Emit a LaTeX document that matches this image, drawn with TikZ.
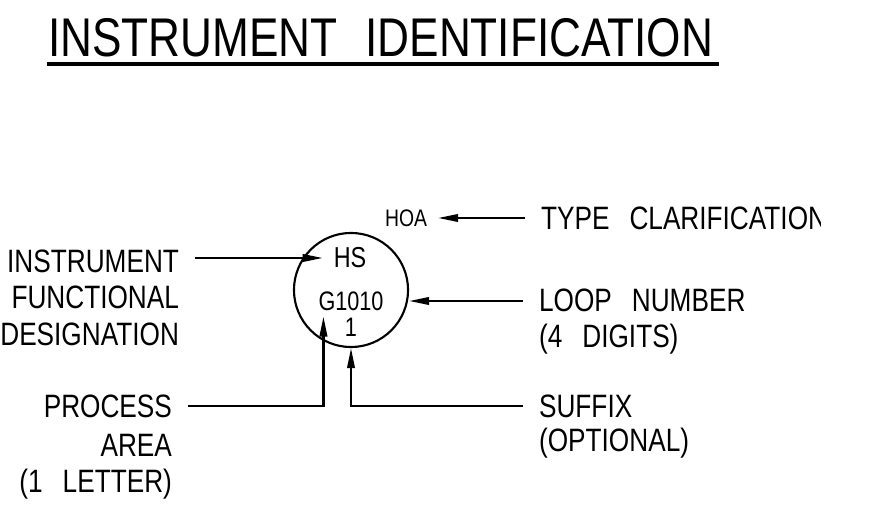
\documentclass[tikz,border=0pt]{standalone}
\usepackage{fontspec}
\setmainfont[FakeStretch=0.81]{Liberation Sans}
\usetikzlibrary{arrows.meta,calc}
\newcommand{\wgap}{\hspace{2mm}}

\begin{document}
\begin{tikzpicture}[x=0.01cm, y=-0.01cm, line width=0.6pt,
	arr/.style={-{Triangle[length=2mm, width=0.75mm]}},
	lbl/.style={font=\fontsize{9.2}{10.3}\selectfont, inner xsep=0.15cm, inner ysep=0pt},
	tag/.style={font=\fontsize{7.6}{8}\selectfont, inner sep=0.1cm}]
	\useasboundingbox (0,0) rectangle (892,519);
	% heading
	\node[anchor=base west, inner sep=0pt, font=\fontsize{15.5}{16}\selectfont] (title) at (47,57) {INSTRUMENT\hspace{2.8mm}IDENTIFICATION};
	\draw[line width=0.9pt] ($(title.base west)+(0,7)$) -- ($(title.base east)+(5,7)$);
	% instrument bubble
	\node[draw, circle, minimum size=1.14cm, inner sep=0pt] (bubble) at (351,290) {};
	\node[tag, font=\fontsize{8.2}{9}\selectfont] (hs) at (350,258) {HS};
	\node[tag] (g1010) at (351,301) {G1010};
	\node[tag] (one) at (351,327) {1};
	\node[tag, font=\fontsize{6.8}{7}\selectfont] (hoa) at (406,218) {HOA};
	% left labels
	\node[lbl, anchor=north east, align=right] (instr) at (195,249) {INSTRUMENT\\FUNCTIONAL\\DESIGNATION};
	\node[lbl, anchor=east] (proc) at (188,406) {PROCESS};
	\node[lbl, anchor=north east, align=right] (proc2) at (188,433) {AREA\\(1\wgap LETTER)};
	% right labels
	\begin{scope}
		\clip (0,0) rectangle (820,519);
		\node[lbl, anchor=west] (tc) at (525,218) {TYPE\wgap CLARIFICATION};
	\end{scope}
	\node[lbl, anchor=north west, align=left] (loop) at (523,288) {LOOP\wgap NUMBER\\(4\wgap DIGITS)};
	\node[lbl, anchor=west] (suf) at (523,406) {SUFFIX};
	\node[lbl, anchor=base west] (suf2) at (523,451) {(OPTIONAL)};
	% leaders
	\draw[arr] (hs -| instr.east) -- (hs.west);
	\draw[arr] (tc.west) -- (tc.west -| hoa.east);
	\draw[arr] (g1010 -| loop.west) -- (g1010 -| bubble.east);
	\draw[arr] (proc.east) -| ($(g1010.south west)+(16,-5)$);
	\draw[arr] (suf.west) -| (bubble.south);
\end{tikzpicture}
\end{document}
